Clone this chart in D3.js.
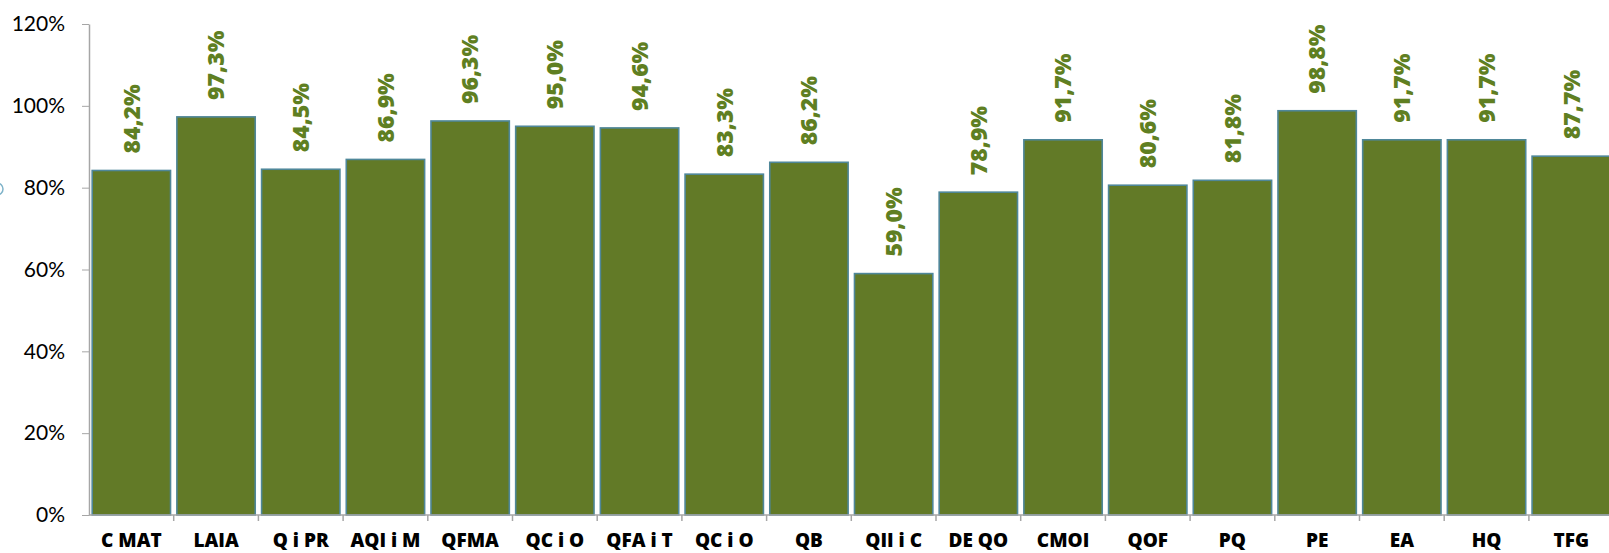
<!DOCTYPE html>
<html>
<head>
<meta charset="utf-8">
<script src="https://cdn.jsdelivr.net/npm/d3@7"></script>
<style>
  body { margin: 0; background: #fff; }
  svg { display: block; }
  .axis path, .axis line { stroke: #a6a6a6; }
</style>
</head>
<body>
<svg width="1609" height="553"></svg>
<script>
var categories = ["C MAT", "LAIA", "Q i PR", "AQI i M", "QFMA", "QC i O", "QFA i T", "QC i O ", "QB",
  "QII i C", "DE QO", "CMOI", "QOF", "PQ", "PE", "EA", "HQ", "TFG"];
var values = [84.2, 97.3, 84.5, 86.9, 96.3, 95.0, 94.6, 83.3, 86.2,
  59.0, 78.9, 91.7, 80.6, 81.8, 98.8, 91.7, 91.7, 87.7];
var yTicks = [0, 20, 40, 60, 80, 100, 120];

var svg = d3.select("svg");
var plotLeft = 89, plotTop = 24, plotBottom = 515;
var step = 84.7;

var x = d3.scaleBand()
  .domain(categories)
  .range([plotLeft, plotLeft + categories.length * step])
  .paddingInner(0.075)
  .paddingOuter(0.0375);

var y = d3.scaleLinear()
  .domain([0, 120])
  .range([plotBottom, plotTop]);

// y axis
var yAxis = svg.append("g")
  .attr("class", "axis")
  .attr("transform", "translate(" + plotLeft + ",0)")
  .call(d3.axisLeft(y).tickValues(yTicks).tickSize(7).tickSizeOuter(0).tickPadding(17)
    .tickFormat(function(d) { return d + "%"; }));
yAxis.selectAll("text")
  .attr("font-family", "Lato, sans-serif")
  .attr("font-size", 21)
  .attr("fill", "#000");
yAxis.select(".domain").attr("stroke-width", 1.5);

// bars
svg.append("g")
  .selectAll("rect")
  .data(values)
  .enter().append("rect")
    .attr("x", function(d, i) { return x(categories[i]); })
    .attr("y", function(d) { return y(d); })
    .attr("width", x.bandwidth())
    .attr("height", function(d) { return plotBottom - y(d); })
    .attr("fill", "#627a27")
    .attr("stroke", "#4f8799")
    .attr("stroke-width", 1.6);

// value labels
svg.append("g")
  .selectAll("text")
  .data(values)
  .enter().append("text")
    .attr("transform", function(d, i) {
      return "translate(" + (x(categories[i]) + x.bandwidth() / 2) + "," + (y(d) - 17) + ") rotate(-90)";
    })
    .attr("dy", "0.36em")
    .attr("font-family", "'Open Sans', sans-serif")
    .attr("font-weight", 800)
    .attr("font-size", 23)
    .attr("fill", "#5f7f22")
    .text(function(d) { return d.toFixed(1).replace(".", ",") + "%"; });

// x axis: line, ticks between bars, labels
var xAxis = svg.append("g").attr("class", "axis");
xAxis.append("line")
  .attr("x1", plotLeft).attr("x2", 1609)
  .attr("y1", plotBottom).attr("y2", plotBottom)
  .attr("stroke-width", 1.5);
xAxis.selectAll(".tick")
  .data(categories.slice(1))
  .enter().append("line")
    .attr("x1", function(d) { return x(d) - x.step() * 0.0375; })
    .attr("x2", function(d) { return x(d) - x.step() * 0.0375; })
    .attr("y1", plotBottom)
    .attr("y2", plotBottom + 6)
    .attr("stroke-width", 1.5);
xAxis.selectAll("text")
  .data(categories)
  .enter().append("text")
    .attr("x", function(d) { return x(d) + x.bandwidth() / 2; })
    .attr("y", 547)
    .attr("text-anchor", "middle")
    .attr("font-family", "'Open Sans', sans-serif")
    .attr("font-weight", 800)
    .attr("font-size", 19)
    .attr("fill", "#000")
    .text(function(d) { return d.trim(); });

// little circle remnant at the left edge
svg.append("circle")
  .attr("cx", -3).attr("cy", 189).attr("r", 6)
  .attr("fill", "none")
  .attr("stroke", "#7fb3c9")
  .attr("stroke-width", 1.5);
</script>
</body>
</html>
